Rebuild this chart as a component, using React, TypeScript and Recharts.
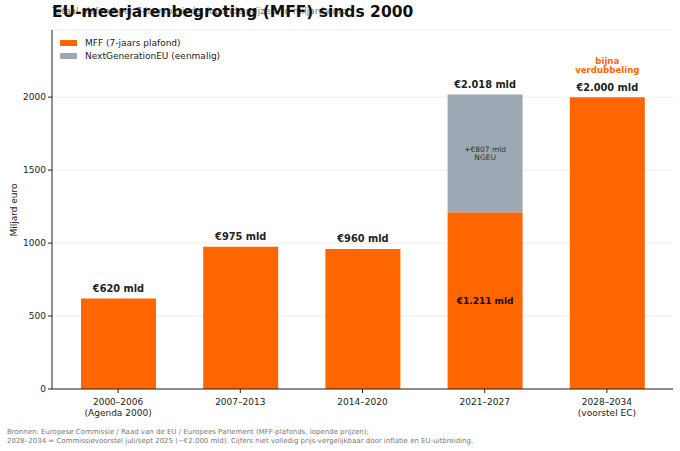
import { BarChart, Bar, XAxis, YAxis, CartesianGrid, LabelList } from "recharts"

const periods = ["2000–2006", "2007–2013", "2014–2020", "2021–2027", "2028–2034"]
const periodNotes = ["(Agenda 2000)", "", "", "", "(voorstel EC)"]
const mffValues = [620, 975, 960, 1211, 2000]
const ngeuValues = [0, 0, 0, 807, 0]
const yTicks = [0, 500, 1000, 1500, 2000]

const colors = {
  mff: "#ff6600",
  ngeu: "#9ca8b4",
  axis: "#222",
  grid: "#ececec",
  muted: "#777",
}

const font = "DejaVu Sans, sans-serif"

const data = periods.map((p, i) => ({
  period: p,
  mff: mffValues[i],
  ngeu: ngeuValues[i],
}))

function fmt(v: number) {
  return String(v).replace(/\B(?=(\d{3})+(?!\d))/g, ".")
}

function PeriodTick({ x, y, payload }: any) {
  const note = periodNotes[periods.indexOf(payload.value)]
  return (
    <g transform={`translate(${x},${y})`}>
      <text textAnchor="middle" fontSize={9} fill={colors.axis} fontFamily={font}>
        <tspan x={0} dy={10}>{payload.value}</tspan>
        {note && <tspan x={0} dy={11}>{note}</tspan>}
      </text>
    </g>
  )
}

function MffLabel(props: any) {
  const { x, y, width, height, value } = props
  const i = mffValues.indexOf(Number(value))
  const cx = x + width / 2
  if (ngeuValues[i] > 0) {
    // stacked bar: MFF part labelled inside
    return (
      <text x={cx} y={y + height / 2} textAnchor="middle" dominantBaseline="central"
        fontSize={9} fontWeight="bold" fill="#111" fontFamily={font}>
        €{fmt(mffValues[i])} mld
      </text>
    )
  }
  return (
    <g>
      <text x={cx} y={y - 10} textAnchor="middle" dominantBaseline="central"
        fontSize={9.8} fontWeight="bold" fill={colors.axis} fontFamily={font}>
        €{fmt(mffValues[i])} mld
      </text>
      {i === periods.length - 1 && (
        <text textAnchor="middle" dominantBaseline="central" fontSize={8.6} fontWeight="bold" fill={colors.mff} fontFamily={font}>
          <tspan x={cx} y={y - 36}>bijna</tspan>
          <tspan x={cx} y={y - 27}>verdubbeling</tspan>
        </text>
      )}
    </g>
  )
}

function NgeuLabel(props: any) {
  const { x, y, width, height, value } = props
  const i = ngeuValues.indexOf(Number(value))
  if (!value || i < 0) return null
  const cx = x + width / 2
  const cy = y + height / 2
  return (
    <g>
      <text x={cx} y={y - 10} textAnchor="middle" dominantBaseline="central"
        fontSize={9.8} fontWeight="bold" fill={colors.axis} fontFamily={font}>
        €{fmt(mffValues[i] + ngeuValues[i])} mld
      </text>
      <text textAnchor="middle" dominantBaseline="central" fontSize={7.5} fill="#333" fontFamily={font}>
        <tspan x={cx} y={cy - 4}>+€{fmt(ngeuValues[i])} mld</tspan>
        <tspan x={cx} y={cy + 4}>NGEU</tspan>
      </text>
    </g>
  )
}

const legendItems = [
  { label: "MFF (7-jaars plafond)", color: colors.mff },
  { label: "NextGenerationEU (eenmalig)", color: colors.ngeu },
]

export default function App() {
  return (
    <div style={{ position: "absolute", left: 0, top: 0, width: 680, height: 451, background: "#fff", fontFamily: font }}>
      <div style={{ position: "absolute", left: 52, top: 7, fontSize: 9, color: colors.muted, whiteSpace: "nowrap", lineHeight: 1 }}>
        Totaal plafond per 7-jaarsperiode, lopende prijzen, in miljard euro
      </div>
      <div style={{ position: "absolute", left: 52, top: 5, fontSize: 15.5, fontWeight: "bold", color: "#111", whiteSpace: "nowrap", lineHeight: 1 }}>
        EU-meerjarenbegroting (MFF) sinds 2000
      </div>
      <div style={{ position: "absolute", left: 14, top: 210, transform: "translate(-50%, -50%) rotate(-90deg)", fontSize: 9, color: "#222", whiteSpace: "nowrap", lineHeight: 1 }}>
        Miljard euro
      </div>
      <BarChart width={680} height={451} data={data} margin={{ top: 30, right: 7, bottom: 0, left: 0 }}>
        <CartesianGrid vertical={false} stroke={colors.grid} />
        <XAxis
          dataKey="period"
          height={62}
          padding={{ left: 5, right: 5 }}
          axisLine={{ stroke: colors.axis }}
          tickLine={{ stroke: colors.axis }}
          tickSize={4}
          tick={<PeriodTick />}
          interval={0}
        />
        <YAxis
          width={52}
          domain={[0, 2460]}
          ticks={yTicks}
          axisLine={{ stroke: colors.axis }}
          tickLine={{ stroke: colors.axis }}
          tickSize={4}
          tick={{ fontSize: 9, fill: colors.axis, fontFamily: font }}
        />
        <Bar dataKey="mff" stackId="a" fill={colors.mff} barSize={75} isAnimationActive={false}>
          <LabelList dataKey="mff" content={<MffLabel />} />
        </Bar>
        <Bar dataKey="ngeu" stackId="a" fill={colors.ngeu} barSize={75} isAnimationActive={false}>
          <LabelList dataKey="ngeu" content={<NgeuLabel />} />
        </Bar>
      </BarChart>
      <div style={{ position: "absolute", left: 60, top: 37, fontSize: 9, color: "#222" }}>
        {legendItems.map((it) => (
          <div key={it.label} style={{ display: "flex", alignItems: "center", height: 12.5 }}>
            <span style={{ display: "inline-block", width: 17, height: 6, background: it.color, marginRight: 8 }} />
            {it.label}
          </div>
        ))}
      </div>
      <div style={{ position: "absolute", left: 7, top: 427.5, fontSize: 7, color: colors.muted, lineHeight: "9px", whiteSpace: "nowrap" }}>
        Bronnen: Europese Commissie / Raad van de EU / Europees Parlement (MFF-plafonds, lopende prijzen);
        <br />
        2028–2034 = Commissievoorstel juli/sept 2025 (~€2.000 mld). Cijfers niet volledig prijs-vergelijkbaar door inflatie en EU-uitbreiding.
      </div>
    </div>
  )
}
